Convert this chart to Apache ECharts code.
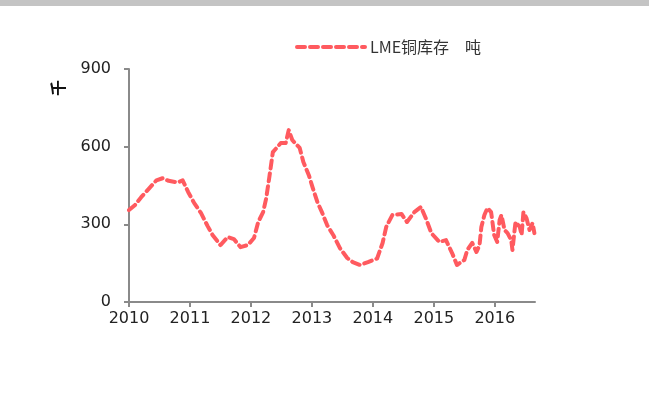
<!DOCTYPE html>
<html><head><meta charset="utf-8">
<script src="https://cdn.jsdelivr.net/npm/echarts@6/dist/echarts.min.js"></script>
<style>html,body{margin:0;padding:0;background:#fff;}#c{width:649px;height:411px;}</style>
</head><body><div id="c"></div>
<script>
var seriesName = 'LME铜库存\u3000吨';
var yAxisUnit = '千';
var dates = [2010.00,2010.10,2010.20,2010.32,2010.45,2010.55,2010.65,2010.80,2010.88,2010.97,2011.07,2011.18,2011.29,2011.37,2011.50,2011.62,2011.72,2011.83,2011.95,2012.05,2012.12,2012.20,2012.25,2012.30,2012.36,2012.49,2012.57,2012.62,2012.68,2012.80,2012.86,2012.95,2013.01,2013.09,2013.17,2013.25,2013.35,2013.46,2013.58,2013.67,2013.79,2013.92,2014.07,2014.16,2014.22,2014.32,2014.47,2014.56,2014.68,2014.79,2014.88,2014.96,2015.09,2015.20,2015.30,2015.38,2015.50,2015.55,2015.63,2015.70,2015.75,2015.78,2015.83,2015.88,2015.94,2015.99,2016.04,2016.08,2016.11,2016.16,2016.21,2016.27,2016.29,2016.34,2016.41,2016.44,2016.47,2016.52,2016.57,2016.62,2016.65];
var stocks = [355,375,405,436,470,478,468,462,470,425,382,344,293,259,220,251,243,212,220,247,309,347,400,479,579,614,614,664,625,595,541,490,444,386,344,297,259,208,170,154,143,154,168,228,290,336,340,309,347,367,317,266,232,239,189,143,162,201,228,193,220,290,336,363,347,259,232,317,336,278,266,239,201,309,290,259,347,324,278,305,266];
var yTicks = [0,300,600,900];

var data = dates.map(function(d,i){return [d, stocks[i]];});
var chart = echarts.init(document.getElementById('c'));
var axisColor = '#8a8a8a';
var red = '#ff5a5f';
chart.setOption({
  animation:false,
  backgroundColor:'#fff',
  textStyle:{fontFamily:'DejaVu Sans'},
  graphic:[
    {type:'rect',left:0,top:0,shape:{width:649,height:6},style:{fill:'#c4c4c4'}},
    {type:'text',x:50,y:96,rotation:Math.PI/2,style:{text:yAxisUnit,font:'bold 16px "Noto Sans CJK SC"',fill:'#111'}}
  ],
  legend:{
    data:[seriesName],
    left:290, top:34,
    itemWidth:68, itemHeight:14, itemGap:6,
    itemStyle:{opacity:0},
    lineStyle:{color:red,width:4,type:[8,5],cap:'round'},
    textStyle:{fontSize:16,color:'#333',fontFamily:'"Noto Sans CJK SC"'}
  },
  grid:{left:129,right:114,top:69,bottom:109,containLabel:false},
  xAxis:{
    type:'value', min:2010, max:2016.66, interval:1,
    splitLine:{show:false},
    axisLine:{lineStyle:{color:axisColor,width:2}},
    axisTick:{lineStyle:{color:axisColor,width:2},length:5},
    axisLabel:{color:'#222',fontSize:16,margin:9,showMaxLabel:false,
      formatter:function(v){return Math.abs(v-Math.round(v))<1e-6?String(Math.round(v)):'';}}
  },
  yAxis:{
    type:'value', min:0, max:900, interval:300,
    splitLine:{show:false},
    axisLine:{show:true,lineStyle:{color:axisColor,width:2}},
    axisTick:{show:true,lineStyle:{color:axisColor,width:2},length:5},
    axisLabel:{color:'#222',fontSize:16,margin:18}
  },
  series:[{
    name:seriesName, type:'line', data:data, showSymbol:false, symbol:'none',
    lineStyle:{color:red,width:4,type:[8,5],cap:'round',join:'round'},
    itemStyle:{color:red}
  }]
});
</script></body></html>
